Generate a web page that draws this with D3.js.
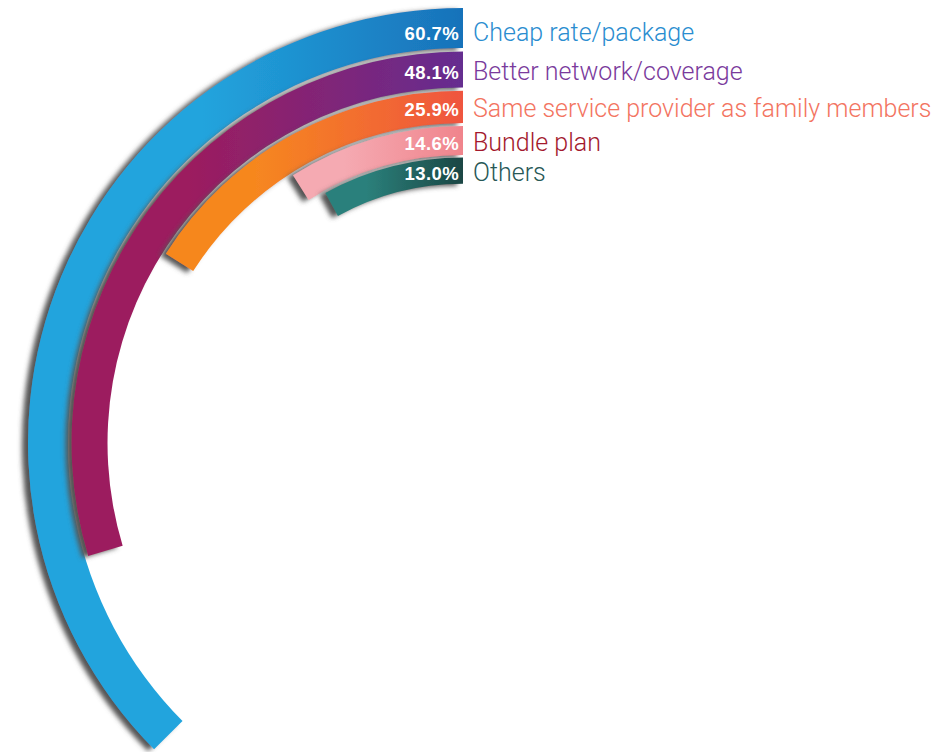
<!DOCTYPE html>
<html>
<head>
<meta charset="utf-8">
<script src="https://cdn.jsdelivr.net/npm/d3@7"></script>
<style>
  html, body { margin: 0; padding: 0; background: #fff; }
  svg { display: block; }
</style>
</head>
<body>
<svg id="chart" width="935" height="752"></svg>
<script>
// Reasons for choosing a mobile service provider (share of respondents, %)
const categories = [
  "Cheap rate/package",
  "Better network/coverage",
  "Same service provider as family members",
  "Bundle plan",
  "Others"
];
const values = [60.7, 48.1, 25.9, 14.6, 13.0];
const valueLabels = ["60.7%", "48.1%", "25.9%", "14.6%", "13.0%"];

// Palette: each ring fades from its light end (left) to its dark end (right)
const ringLight = ["#22a4dd", "#9c1d5f", "#f6871f", "#f5aab2", "#2b807b"];
const ringDark  = ["#1872ba", "#652d90", "#ef553f", "#f0848c", "#1a4644"];
const labelColors = ["#2a8dd0", "#7a3a9c", "#f37461", "#a3192d", "#285856"];

const width = 935, height = 752;
const cx = 463, cy = 443;
const outerMax = 435;     // outer radius of the first ring
const ringStep = 0.9;     // each ring's outer radius shrinks by this factor
const ringFill = 0.908;   // inner / outer radius of a ring

const svg = d3.select("#chart");
const defs = svg.append("defs");

// soft drop shadow cast to the left
const shadow = defs.append("filter")
  .attr("id", "ringShadow")
  .attr("x", "-10%").attr("y", "-10%")
  .attr("width", "125%").attr("height", "125%");
shadow.append("feGaussianBlur").attr("in", "SourceAlpha").attr("stdDeviation", 2.6).attr("result", "blur");
shadow.append("feOffset").attr("in", "blur").attr("dx", -6).attr("dy", 2).attr("result", "off");
shadow.append("feFlood").attr("flood-color", "#555555").attr("flood-opacity", 1).attr("result", "col");
shadow.append("feComposite").attr("in", "col").attr("in2", "off").attr("operator", "in").attr("result", "sh");
const merge = shadow.append("feMerge");
merge.append("feMergeNode").attr("in", "sh");
merge.append("feMergeNode").attr("in", "SourceGraphic");

categories.forEach((c, i) => {
  const g = defs.append("linearGradient")
    .attr("id", "ringGrad" + i)
    .attr("x1", "0").attr("y1", "0").attr("x2", "1").attr("y2", "0");
  g.append("stop").attr("offset", "0%").attr("stop-color", ringLight[i]);
  g.append("stop").attr("offset", i === 0 ? "40%" : "30%").attr("stop-color", ringLight[i]);
  g.append("stop").attr("offset", "100%").attr("stop-color", ringDark[i]);
});

// value -> sweep angle (counter-clockwise from 12 o'clock)
const angle = d3.scaleLinear().domain([0, 100]).range([0, 222 * Math.PI / 180]);
const outerR = i => outerMax * Math.pow(ringStep, i);
const innerR = i => outerR(i) * ringFill;

const arc = d3.arc()
  .innerRadius((d, i) => innerR(i))
  .outerRadius((d, i) => outerR(i))
  .startAngle(0)
  .endAngle(d => -angle(d));

const plot = svg.append("g").attr("transform", `translate(${cx},${cy})`);

plot.selectAll("path.ring")
  .data(values)
  .join("path")
  .attr("class", "ring")
  .attr("d", (d, i) => arc(d, i))
  .attr("fill", (d, i) => `url(#ringGrad${i})`)
  .attr("filter", "url(#ringShadow)");

const midY = i => -(outerR(i) + innerR(i)) / 2;

// percentage inside the end of each ring
plot.selectAll("text.value")
  .data(valueLabels)
  .join("text")
  .attr("class", "value")
  .attr("x", -4)
  .attr("y", (d, i) => midY(i) + (i === 0 ? 11.5 : 9.5))
  .attr("text-anchor", "end")
  .attr("fill", "#fff")
  .attr("font-family", "'Liberation Sans', Arial, Helvetica, sans-serif")
  .attr("font-weight", "bold")
  .attr("font-size", 18.5)
  .attr("letter-spacing", 0.4)
  .text(d => d);

// category names to the right
plot.selectAll("text.cat")
  .data(categories)
  .join("text")
  .attr("class", "cat")
  .attr("x", 10)
  .attr("y", (d, i) => midY(i) + (i === 0 ? 12.5 : 10.5))
  .attr("text-anchor", "start")
  .attr("fill", (d, i) => labelColors[i])
  .attr("font-family", "Roboto, 'Liberation Sans', Arial, sans-serif")
  .attr("font-weight", 300)
  .attr("font-size", 25)
  .text(d => d);
</script>
</body>
</html>
